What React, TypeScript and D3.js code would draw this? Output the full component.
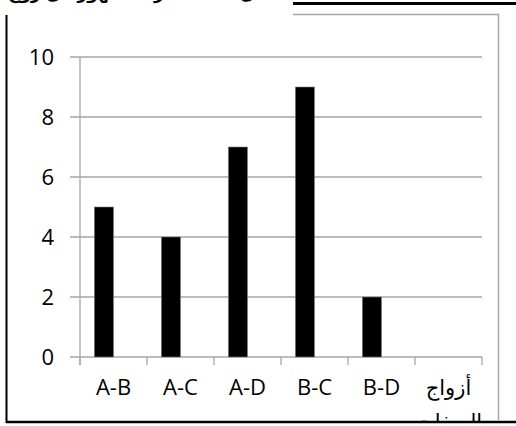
import React from "react";
import * as d3 from "d3";

const categories = ["A-B", "A-C", "A-D", "B-C", "B-D", "أزواج"];
const categorySecondLine = ["", "", "", "", "", "الصفات"];
const seriesNames = ["s1", "s2"];
const values: (number | null)[] = [5, 4, 7, 9, 2, null];
const yTicks = [0, 2, 4, 6, 8, 10];
const captionText = "شكل ٢: عدد مرات ظهور كل زوج من الصفات معاً";

const W = 516;
const H = 426;

export default function App() {
  const x = d3.scaleBand<string>().domain(categories).range([80, 482]).paddingInner(0).paddingOuter(0);
  const xs = d3.scaleBand<string>().domain(seriesNames).range([0, x.bandwidth()]).paddingInner(0).paddingOuter(0.75);
  const y = d3.scaleLinear().domain([0, 10]).range([357, 57]);
  const ticksX = [...categories.map((c) => x(c) as number), 482];
  const sans = "'Open Sans', 'Liberation Sans', sans-serif";

  return (
    <svg width={W} height={H} style={{ position: "absolute", left: 0, top: 0, background: "#fff" }}>
      <defs>
        <clipPath id="clipMain">
          <rect x={0} y={0} width={W} height={421} />
        </clipPath>
        <clipPath id="clipTop">
          <rect x={0} y={0} width={288} height={14} />
        </clipPath>
      </defs>
      <rect x={0} y={0} width={W} height={H} fill="#fff" />
      {/* cut-off caption at top */}
      <g clipPath="url(#clipTop)">
        <text
          x={282}
          y={-1.5}
          textAnchor="end"
          fontFamily="'DejaVu Sans', sans-serif"
          fontWeight="bold"
          fontSize={17}
          fill="#000"
        >
          {captionText}
        </text>
      </g>
      {/* page lines */}
      <line x1={293} x2={516} y1={3.5} y2={3.5} stroke="#000" strokeWidth={3} />
      <line x1={6.5} x2={6.5} y1={15} y2={423} stroke="#000" strokeWidth={2} />
      <line x1={6} x2={516} y1={422} y2={422} stroke="#000" strokeWidth={2.5} />
      {/* chart frame */}
      <path d="M293,14.5 H498.5 V420" fill="none" stroke="#a6a6a6" strokeWidth={1.5} />
      <g clipPath="url(#clipMain)">
        {/* gridlines */}
        {yTicks.map((t) => (
          <line key={"g" + t} x1={70} x2={482} y1={y(t)} y2={y(t)} stroke="#a6a6a6" strokeWidth={1.3} />
        ))}
        {/* y axis */}
        <line x1={80} x2={80} y1={y(10)} y2={365} stroke="#a6a6a6" strokeWidth={1.3} />
        {/* x ticks */}
        {ticksX.map((tx, i) => (
          <line key={"xt" + i} x1={tx} x2={tx} y1={y(0)} y2={365} stroke="#a6a6a6" strokeWidth={1.3} />
        ))}
        {/* bars */}
        {categories.map((c, i) =>
          values[i] == null ? null : (
            <rect
              key={"b" + c}
              x={(x(c) as number) + (xs("s1") as number)}
              y={y(values[i] as number)}
              width={xs.bandwidth()}
              height={y(0) - y(values[i] as number)}
              fill="#000"
              stroke="#7f7f7f"
              strokeWidth={0.6}
            />
          )
        )}
        {/* y labels */}
        {yTicks.map((t) => (
          <text key={"yl" + t} x={54} y={y(t) + 7.8} textAnchor="end" fontFamily={sans} fontSize={22} fill="#000">
            {t}
          </text>
        ))}
        {/* x labels */}
        {categories.map((c, i) => {
          const cx = (x(c) as number) + x.bandwidth() / 2;
          const isAr = categorySecondLine[i] !== "";
          return (
            <g key={"xl" + c}>
              <text
                x={cx}
                y={395}
                textAnchor="middle"
                fontFamily={isAr ? "'DejaVu Serif', 'DejaVu Sans', serif" : sans}
                fontSize={isAr ? 21 : 22}
                fill="#000"
              >
                {c}
              </text>
              {isAr && (
                <text
                  x={cx}
                  y={429}
                  textAnchor="middle"
                  fontFamily="'DejaVu Serif', 'DejaVu Sans', serif"
                  fontSize={21}
                  fill="#000"
                >
                  {categorySecondLine[i]}
                </text>
              )}
            </g>
          );
        })}
      </g>
    </svg>
  );
}
